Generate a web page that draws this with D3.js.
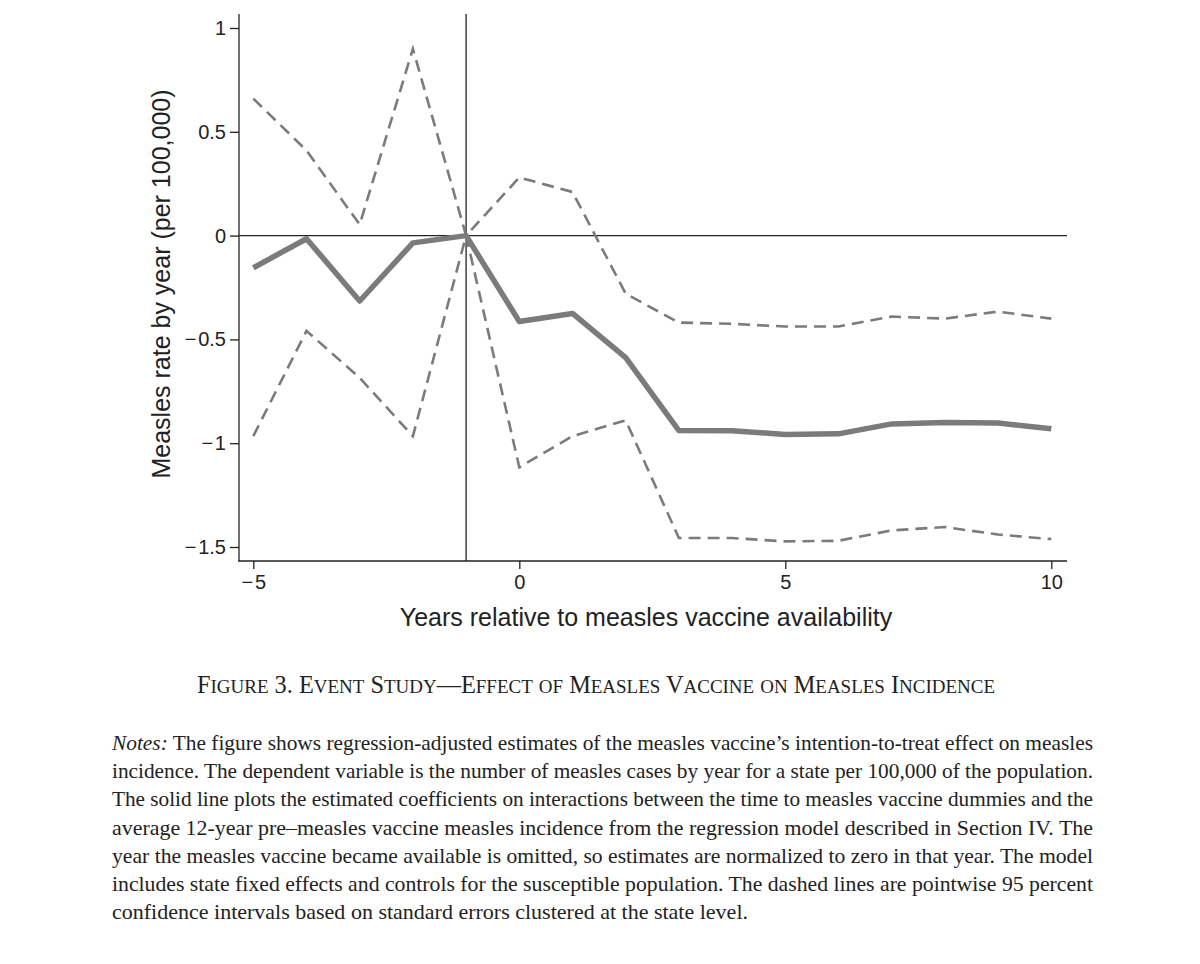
<!DOCTYPE html>
<html>
<head>
<meta charset="utf-8">
<script src="https://cdn.jsdelivr.net/npm/d3@7"></script>
<style>
  html, body { margin: 0; padding: 0; background: #fff; }
  svg { display: block; }
</style>
</head>
<body>
<svg id="chart"></svg>
<script>
// ---------------------------------------------------------------------------
// Data
// ---------------------------------------------------------------------------
const years = [-5, -4, -3, -2, -1, 0, 1, 2, 3, 4, 5, 6, 7, 8, 9, 10];
const estimate = [-0.155, -0.015, -0.315, -0.035, 0, -0.414, -0.375, -0.588, -0.939, -0.94, -0.958, -0.955, -0.907, -0.90, -0.903, -0.93];
const upperCI = [0.66, 0.41, 0.053, 0.90, 0, 0.28, 0.21, -0.28, -0.419, -0.425, -0.438, -0.438, -0.39, -0.40, -0.366, -0.40];
const lowerCI = [-0.966, -0.459, -0.685, -0.966, 0, -1.116, -0.966, -0.89, -1.457, -1.457, -1.473, -1.47, -1.42, -1.404, -1.44, -1.462];

const xTicks = [-5, 0, 5, 10];
const yTicks = [-1.5, -1, -0.5, 0, 0.5, 1];
const eventYear = -1;

const xLabel = "Years relative to measles vaccine availability";
const yLabel = "Measles rate by year (per 100,000)";
const caption = "Figure 3. Event Study\u2014Effect of Measles Vaccine on Measles Incidence";
const notesLines = [
  "The figure shows regression-adjusted estimates of the measles vaccine\u2019s intention-to-treat effect on measles",
  "incidence. The dependent variable is the number of measles cases by year for a state per 100,000 of the population.",
  "The solid line plots the estimated coefficients on interactions between the time to measles vaccine dummies and the",
  "average 12-year pre\u2013measles vaccine measles incidence from the regression model described in Section IV. The",
  "year the measles vaccine became available is omitted, so estimates are normalized to zero in that year. The model",
  "includes state fixed effects and controls for the susceptible population. The dashed lines are pointwise 95 percent",
  "confidence intervals based on standard errors clustered at the state level."
];

// ---------------------------------------------------------------------------
// Layout
// ---------------------------------------------------------------------------
const W = 1200, H = 964;
const plot = { left: 239, right: 1067, top: 14, bottom: 561 };
const SANS = "'Liberation Sans', Arial, Helvetica, sans-serif";
const SERIF = "'Liberation Serif', 'Times New Roman', Times, serif";
const AXIS_COLOR = "#222";
const LINE_COLOR = "#7b7b7b";

const svg = d3.select("#chart").attr("width", W).attr("height", H);

const x = d3.scaleLinear().domain([-5, 10]).range([253.3, 1051.3]);
const y = d3.scaleLinear().domain([-1.5, 1]).range([547, 28]);

const fmt = v => (v < 0 ? "\u2212\u200A" : "") + d3.format("~g")(Math.abs(v));

// reference lines
svg.append("line")
  .attr("x1", plot.left).attr("x2", plot.right)
  .attr("y1", y(0)).attr("y2", y(0))
  .attr("stroke", AXIS_COLOR).attr("stroke-width", 1.3);

svg.append("line")
  .attr("x1", x(eventYear)).attr("x2", x(eventYear))
  .attr("y1", plot.top).attr("y2", plot.bottom)
  .attr("stroke", AXIS_COLOR).attr("stroke-width", 1.3);

// axes
const yAxis = svg.append("g")
  .attr("transform", `translate(${plot.left},0)`)
  .call(d3.axisLeft(y).tickValues(yTicks).tickSize(9).tickPadding(4).tickFormat(fmt));

const xAxis = svg.append("g")
  .attr("transform", `translate(0,${plot.bottom})`)
  .call(d3.axisBottom(x).tickValues(xTicks).tickSize(8).tickPadding(6).tickFormat(fmt));

[yAxis, xAxis].forEach(g => {
  g.select(".domain").remove();
  g.selectAll(".tick line").attr("stroke", AXIS_COLOR).attr("stroke-width", 1.3);
  g.selectAll(".tick text")
    .attr("fill", "#222")
    .style("font-family", SANS)
    .style("font-size", "20px");
});

svg.append("line")
  .attr("x1", plot.left).attr("x2", plot.left)
  .attr("y1", plot.top).attr("y2", plot.bottom + 0.6)
  .attr("stroke", AXIS_COLOR).attr("stroke-width", 1.3);
svg.append("line")
  .attr("x1", plot.left - 0.6).attr("x2", plot.right)
  .attr("y1", plot.bottom).attr("y2", plot.bottom)
  .attr("stroke", AXIS_COLOR).attr("stroke-width", 1.3);

// series
const line = series => d3.line()
  .x((d, i) => x(years[i]))
  .y(d => y(d))(series);

svg.append("path")
  .attr("d", line(upperCI))
  .attr("fill", "none").attr("stroke", LINE_COLOR)
  .attr("stroke-width", 2.6).attr("stroke-dasharray", "12,7");

svg.append("path")
  .attr("d", line(lowerCI))
  .attr("fill", "none").attr("stroke", LINE_COLOR)
  .attr("stroke-width", 2.6).attr("stroke-dasharray", "12,7");

svg.append("path")
  .attr("d", line(estimate))
  .attr("fill", "none").attr("stroke", LINE_COLOR)
  .attr("stroke-width", 5.5).attr("stroke-linejoin", "round");

// axis titles
svg.append("text")
  .attr("x", 646).attr("y", 626)
  .attr("text-anchor", "middle")
  .attr("fill", "#222")
  .style("font-family", SANS).style("font-size", "25px")
  .text(xLabel);

svg.append("text")
  .attr("transform", `translate(170,284) rotate(-90)`)
  .attr("text-anchor", "middle")
  .attr("fill", "#222")
  .style("font-family", SANS).style("font-size", "25px")
  .text(yLabel);

// caption in hand-made small caps, sized to the reference width
const capText = svg.append("text")
  .attr("x", 596).attr("y", 693)
  .attr("text-anchor", "middle")
  .attr("fill", "#222")
  .style("font-family", SERIF);

const capParts = caption.match(/[a-z]+|[^a-z]+/g);
function setCaptionSize(size) {
  capText.selectAll("tspan").remove();
  capParts.forEach(p => {
    const lower = /^[a-z]+$/.test(p);
    capText.append("tspan")
      .style("font-size", (lower ? size * 0.78 : size) + "px")
      .text(lower ? p.toUpperCase() : p);
  });
}
setCaptionSize(20);
const capW = capText.node().getComputedTextLength();
setCaptionSize(20 * 798 / capW);

// notes: condensed serif, justified except the last line
const notesLeft = 112, notesRight = 1093, lastLineWidth = 636;
notesLines.forEach((txt, i) => {
  const t = svg.append("text")
    .attr("x", notesLeft).attr("y", 750 + i * 28.2)
    .attr("fill", "#222")
    .style("font-family", SERIF).style("font-size", "21.5px");
  if (i === 0) {
    t.append("tspan").style("font-style", "italic").text("Notes:");
    t.append("tspan").text(" " + txt);
  } else {
    t.text(txt);
  }
  const w = i < notesLines.length - 1 ? notesRight - notesLeft : lastLineWidth;
  t.attr("textLength", w).attr("lengthAdjust", "spacingAndGlyphs");
});
</script>
</body>
</html>
